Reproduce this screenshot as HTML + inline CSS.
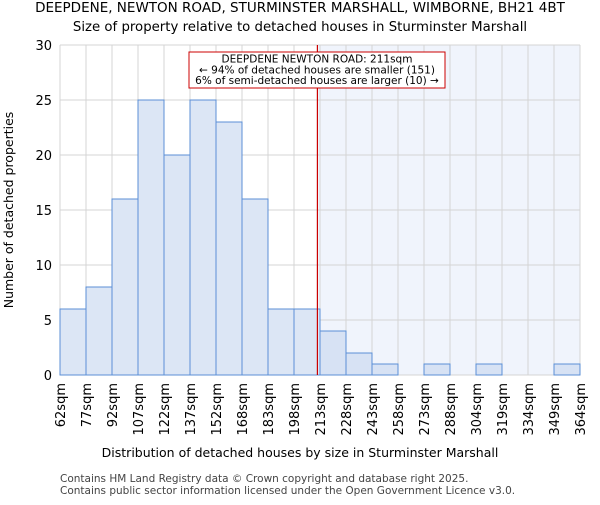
<!DOCTYPE html>
<html><head><meta charset="utf-8"><style>
body{margin:0;background:#fff;font-family:"Liberation Sans","DejaVu Sans",sans-serif}
svg text{font-family:"DejaVu Sans","Liberation Sans",sans-serif}
</style></head><body>
<svg id="chart" width="600" height="500">
<text x="300" y="12" text-anchor="middle" font-size="13.5">DEEPDENE, NEWTON ROAD, STURMINSTER MARSHALL, WIMBORNE, BH21 4BT</text>
<text x="300" y="31" text-anchor="middle" font-size="13.3">Size of property relative to detached houses in Sturminster Marshall</text>
<g id="plot"></g>
<text x="300" y="457" text-anchor="middle" font-size="12.5">Distribution of detached houses by size in Sturminster Marshall</text>
<text transform="translate(13,210) rotate(-90)" text-anchor="middle" font-size="12.5">Number of detached properties</text>
<text x="60" y="482" font-size="10.5" fill="#444">Contains HM Land Registry data © Crown copyright and database right 2025.</text>
<text x="60" y="494" font-size="10.5" fill="#444">Contains public sector information licensed under the Open Government Licence v3.0.</text>
</svg>
<script>
const labels=["62sqm","77sqm","92sqm","107sqm","122sqm","137sqm","152sqm","168sqm","183sqm","198sqm","213sqm","228sqm","243sqm","258sqm","273sqm","288sqm","304sqm","319sqm","334sqm","349sqm","364sqm"];
const counts=[6,8,16,25,20,25,23,16,6,6,4,2,1,0,1,0,1,0,0,1];
const yTicks=[0,5,10,15,20,25,30];
const markerIndex=9.9;
const NS="http://www.w3.org/2000/svg";
const L=60,R=580,T=45,B=375,yMax=30;
const bw=(R-L)/counts.length;
const x=i=>L+i*bw, y=v=>B-(B-T)*v/yMax;
const g=document.getElementById('plot');
function mk(t,a){const e=document.createElementNS(NS,t);for(const k in a)e.setAttribute(k,a[k]);g.appendChild(e);return e;}
const mx=x(markerIndex);
let e=mk('rect',{x:mx,y:T,width:R-mx,height:B-T,fill:'#f0f4fc'});


yTicks.forEach(v=>{const l=mk('line',{x1:L,x2:R,y1:y(v),y2:y(v),stroke:'#d4d4d4','stroke-width':1});


const t=mk('text',{x:L-8,y:y(v)+5,'text-anchor':'end','font-size':13});t.textContent=v;

});
labels.forEach((s,i)=>{const l=mk('line',{x1:x(i),x2:x(i),y1:T,y2:B,stroke:'#d4d4d4','stroke-width':1});


const t=mk('text',{transform:`translate(${x(i)+5},${B+8}) rotate(-90)`,'text-anchor':'end','font-size':13});t.textContent=s;

});
counts.forEach((c,i)=>{if(!c)return;const r=mk('rect',{x:x(i),y:y(c),width:bw,height:B-y(c),fill:x(i)>=mx?'#d7e2f4':'#dce6f5',stroke:'#5b8fd6','stroke-width':1});

});
e=mk('line',{x1:mx,x2:mx,y1:T,y2:B,stroke:'#c00','stroke-width':1.2});


e=mk('rect',{x:189,y:52,width:256,height:36,fill:'#fff',stroke:'#c00','stroke-width':1});


["DEEPDENE NEWTON ROAD: 211sqm","← 94% of detached houses are smaller (151)","6% of semi-detached houses are larger (10) →"].forEach((s,i)=>{
const t=mk('text',{x:317,y:62.5+i*10.8,'text-anchor':'middle','font-size':10.5});t.textContent=s;

});
</script>
</body></html>
